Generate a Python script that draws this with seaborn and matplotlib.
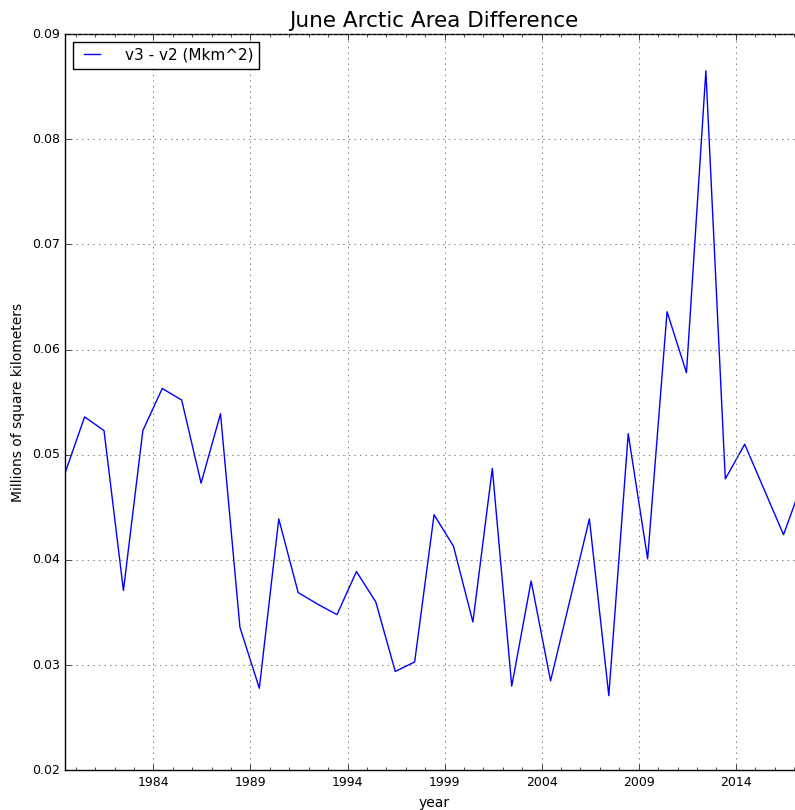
import pandas as pd
import matplotlib
matplotlib.use("Agg")
import matplotlib.pyplot as plt
import seaborn as sns
from matplotlib.ticker import MultipleLocator

years = list(range(1979, 2018))
diff = [0.0483, 0.0536, 0.0523, 0.0371, 0.0523, 0.0563, 0.0552, 0.0473, 0.0539, 0.0336,
        0.0278, 0.0439, 0.0369, 0.0358, 0.0348, 0.0389, 0.0360, 0.0294, 0.0303, 0.0443,
        0.0413, 0.0341, 0.0487, 0.0280, 0.0380, 0.0285, 0.0362, 0.0439, 0.0271, 0.0520,
        0.0401, 0.0636, 0.0578, 0.0865, 0.0477, 0.0510, 0.0467, 0.0424, 0.0475]
major_ticks = [1984, 1989, 1994, 1999, 2004, 2009, 2014]

# June value sits mid-month
df = pd.DataFrame({"year": [y + 5.5 / 12 for y in years], "diff": diff})

plt.style.use("classic")
plt.rcParams["font.family"] = ["DejaVu Sans"]

fig = plt.figure(figsize=(7.95, 8.1), dpi=100, facecolor="white")
ax = fig.add_axes([0.082, 0.049, 0.928, 0.909])
sns.lineplot(data=df, x="year", y="diff", color="b", linewidth=1,
             label="v3 - v2 (Mkm^2)", ax=ax)

ax.set_xlim(df.year.min(), df.year.max())
ax.set_ylim(0.02, 0.09)
ax.set_xticks(major_ticks)
ax.set_xticklabels([str(t) for t in major_ticks])
ax.xaxis.set_minor_locator(MultipleLocator(1))
ax.yaxis.set_major_locator(MultipleLocator(0.01))
ax.tick_params(labelsize=9)
ax.grid(True, color="0.4", linestyle=":", linewidth=0.6)
ax.set_xlabel("year", fontsize=10)
ax.set_ylabel("Millions of square kilometers", fontsize=10)
ax.set_title("June Arctic Area Difference", fontsize=15.5)
ax.legend(loc="upper left", fontsize=11, fancybox=False,
          handlelength=1.7, handletextpad=1.3)

fig.savefig("out.png", dpi=100, facecolor="white")
